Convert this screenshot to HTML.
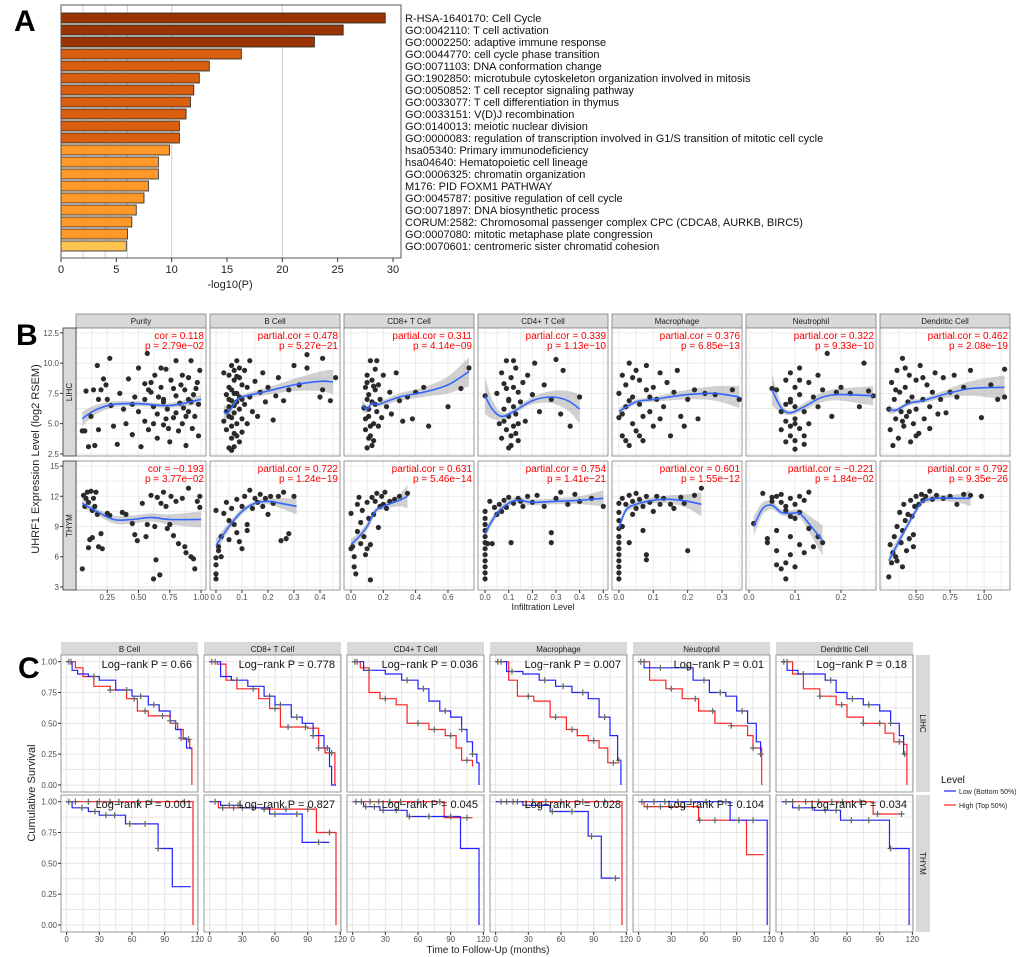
<!DOCTYPE html>
<html><head><meta charset="utf-8"><style>
html,body{margin:0;padding:0;background:#fff}
svg{display:block;font-family:"Liberation Sans",Arial,sans-serif}
</style></head><body>
<svg id="fig" width="1020" height="957" viewBox="0 0 1020 957" xmlns="http://www.w3.org/2000/svg">
<text x="14" y="31" font-size="30" font-weight="bold">A</text>
<text x="16" y="345" font-size="30" font-weight="bold">B</text>
<text x="18" y="678" font-size="30" font-weight="bold">C</text>
<g id="pa"></g>
<g id="pb"></g>
<g id="pc"></g>
</svg>
<script>
// ---------- Panel A data ----------
const aTerms=["R-HSA-1640170: Cell Cycle","GO:0042110: T cell activation","GO:0002250: adaptive immune response","GO:0044770: cell cycle phase transition","GO:0071103: DNA conformation change","GO:1902850: microtubule cytoskeleton organization involved in mitosis","GO:0050852: T cell receptor signaling pathway","GO:0033077: T cell differentiation in thymus","GO:0033151: V(D)J recombination","GO:0140013: meiotic nuclear division","GO:0000083: regulation of transcription involved in G1/S transition of mitotic cell cycle","hsa05340: Primary immunodeficiency","hsa04640: Hematopoietic cell lineage","GO:0006325: chromatin organization","M176: PID FOXM1 PATHWAY","GO:0045787: positive regulation of cell cycle","GO:0071897: DNA biosynthetic process","CORUM:2582: Chromosomal passenger complex CPC (CDCA8, AURKB, BIRC5)","GO:0007080: mitotic metaphase plate congression","GO:0070601: centromeric sister chromatid cohesion"];
const aValues=[29.3,25.5,22.9,16.3,13.4,12.5,12.0,11.7,11.3,10.7,10.7,9.8,8.8,8.8,7.9,7.5,6.8,6.4,6.0,5.9];
const aColorGroup=[0,0,0,1,1,1,1,1,1,1,1,2,2,2,2,2,2,2,2,3];
const aTicks=[0,5,10,15,20,25,30];
const aGrid=[2,4,6,10,20];

// ---------- Panel B data ----------
const bPanels=["Purity","B Cell","CD8+ T Cell","CD4+ T Cell","Macrophage","Neutrophil","Dendritic Cell"];
const bXDomains=[[0,1.04],[-0.023,0.477],[-0.043,0.761],[-0.03,0.52],[-0.02,0.358],[-0.0065,0.276],[0.235,1.19]];
const bXTicks=[[0.25,0.5,0.75,1.0],[0,0.1,0.2,0.3,0.4],[0,0.2,0.4,0.6],[0,0.1,0.2,0.3,0.4,0.5],[0,0.1,0.2,0.3],[0,0.1,0.2],[0.5,0.75,1.0]];
const bXTickLabels=[["0.25","0.50","0.75","1.00"],["0.0","0.1","0.2","0.3","0.4"],["0.0","0.2","0.4","0.6"],["0.0","0.1","0.2","0.3","0.4","0.5"],["0.0","0.1","0.2","0.3"],["0.0","0.1","0.2"],["0.50","0.75","1.00"]];
const bRows=["LIHC","THYM"];
const bYDomains=[[2.33,12.9],[2.7,15.5]];
const bYTicks=[[2.5,5,7.5,10,12.5],[3,6,9,12,15]];
const bYTickLabels=[["2.5","5.0","7.5","10.0","12.5"],["3","6","9","12","15"]];
const lihcCorLabel=["cor = 0.118","partial.cor = 0.478","partial.cor = 0.311","partial.cor = 0.339","partial.cor = 0.376","partial.cor = 0.322","partial.cor = 0.462"];
const lihcPLabel=["p = 2.79e\u221202","p = 5.27e\u221221","p = 4.14e\u221209","p = 1.13e\u221210","p = 6.85e\u221213","p = 9.33e\u221210","p = 2.08e\u221219"];
const thymCorLabel=["cor = \u22120.193","partial.cor = 0.722","partial.cor = 0.631","partial.cor = 0.754","partial.cor = 0.601","partial.cor = \u22120.221","partial.cor = 0.792"];
const thymPLabel=["p = 3.77e\u221202","p = 1.24e\u221219","p = 5.46e\u221214","p = 1.41e\u221221","p = 1.55e\u221212","p = 1.84e\u221202","p = 9.35e\u221226"];
const lihcPoints=[
[0.05,4.4,0.07,4.4,0.08,7.7,0.1,3.1,0.12,5.6,0.14,7.8,0.15,3.2,0.17,9.8,0.18,7.0,0.18,4.5,0.2,7.8,0.22,8.7,0.24,8.2,0.25,7.0,0.27,10.4,0.28,6.5,0.3,4.8,0.33,3.3,0.35,7.5,0.38,6.2,0.4,5.0,0.42,8.7,0.45,4.1,0.47,7.2,0.5,9.6,0.5,6.0,0.52,3.1,0.55,8.3,0.55,5.2,0.57,10.8,0.58,4.5,0.6,7.6,0.62,6.4,0.63,9.0,0.65,3.8,0.65,5.8,0.68,8.0,0.7,4.9,0.7,7.0,0.72,9.5,0.73,6.2,0.75,3.5,0.76,8.6,0.78,5.5,0.8,10.2,0.8,7.3,0.82,4.4,0.83,6.7,0.85,9.0,0.85,5.0,0.87,7.8,0.88,3.2,0.9,8.8,0.9,6.0,0.92,10.2,0.93,4.6,0.94,7.4,0.95,5.6,0.97,8.4,0.98,6.6,0.98,4.0,0.99,9.4,0.6,8.4,0.7,6.8,0.8,5.9,0.9,7.0,0.45,6.6,0.55,7.0,0.62,5.0,0.68,9.6,0.74,4.6,0.86,6.3,0.96,7.9,0.58,7.8,0.66,7.2,0.78,7.9,0.84,8.2,0.88,5.6,0.92,6.8,0.72,5.4],
[0.03,9.2,0.04,6.0,0.04,4.5,0.05,8.0,0.05,3.0,0.05,7.0,0.06,5.5,0.06,9.8,0.06,3.8,0.07,6.5,0.07,8.6,0.07,4.2,0.08,7.5,0.08,5.0,0.08,10.2,0.09,6.2,0.09,3.5,0.09,8.8,0.1,7.0,0.1,5.4,0.1,4.3,0.11,9.4,0.11,6.6,0.12,8.0,0.12,5.0,0.13,7.2,0.13,10.2,0.14,6.0,0.15,8.5,0.16,5.6,0.17,7.6,0.18,9.2,0.19,6.8,0.2,8.0,0.22,5.3,0.23,7.3,0.24,8.8,0.26,6.9,0.28,7.8,0.3,9.8,0.32,8.2,0.35,10.7,0.35,9.6,0.4,7.2,0.41,10.4,0.41,7.8,0.44,6.9,0.46,8.8,0.06,7.8,0.08,6.8,0.07,3.1,0.09,9.6,0.05,6.4,0.1,8.2,0.03,5.2,0.06,4.8,0.07,5.9,0.08,4.0,0.09,7.2,0.05,9.0,0.04,7.4,0.06,6.9,0.07,7.5,0.08,8.9,0.05,5.6,0.07,9.4,0.06,2.8],
[0.08,6.3,0.09,8.0,0.09,4.5,0.1,3.0,0.1,9.0,0.11,5.6,0.11,7.4,0.12,10.2,0.12,4.0,0.13,6.8,0.13,8.6,0.14,5.0,0.14,3.6,0.15,7.8,0.15,9.5,0.16,6.0,0.17,4.8,0.17,8.2,0.18,7.0,0.19,5.5,0.2,9.0,0.22,6.4,0.24,7.6,0.25,5.8,0.28,9.2,0.3,6.9,0.32,5.2,0.35,7.2,0.38,5.4,0.4,7.6,0.45,8.0,0.48,4.8,0.6,6.4,0.68,7.9,0.73,9.6,0.11,6.2,0.13,3.2,0.1,7.0,0.16,10.2,0.14,8.1,0.09,5.4,0.12,4.8,0.1,8.4,0.15,6.6,0.11,3.8],
[0.0,7.3,0.05,7.5,0.06,5.0,0.07,9.2,0.07,3.8,0.08,6.2,0.08,8.3,0.09,4.5,0.09,10.2,0.1,5.6,0.1,7.0,0.11,3.2,0.11,8.8,0.12,6.4,0.12,4.8,0.13,9.6,0.13,5.8,0.14,7.6,0.14,3.6,0.15,6.8,0.16,8.4,0.17,5.2,0.18,9.0,0.2,7.4,0.21,10.0,0.23,6.0,0.25,8.2,0.28,7.0,0.3,10.3,0.32,5.8,0.33,9.4,0.36,4.8,0.4,7.2,0.1,6.9,0.11,4.0,0.09,7.9,0.14,5.0,0.12,10.2,0.08,5.2,0.1,3.0,0.12,8.0,0.13,4.2],
[0.0,5.5,0.0,7.5,0.01,9.0,0.01,4.0,0.02,6.4,0.02,8.2,0.03,3.2,0.03,10.0,0.04,5.0,0.04,7.2,0.05,9.4,0.05,4.4,0.06,6.6,0.06,8.6,0.07,5.6,0.07,3.6,0.08,7.8,0.08,9.8,0.09,6.0,0.1,4.8,0.1,8.0,0.11,7.0,0.12,5.4,0.12,9.2,0.13,6.4,0.14,8.4,0.15,4.0,0.16,7.6,0.17,9.4,0.18,5.6,0.19,4.8,0.2,7.0,0.22,7.8,0.23,5.4,0.25,7.5,0.28,7.4,0.33,7.8,0.35,7.0,0.03,6.9,0.06,4.0,0.01,5.8,0.02,3.6,0.04,8.8,0.09,7.2],
[0.06,7.8,0.07,6.0,0.07,4.5,0.08,8.6,0.08,5.2,0.08,3.5,0.09,7.0,0.09,9.2,0.09,4.0,0.1,6.4,0.1,2.9,0.1,8.0,0.1,5.4,0.11,7.4,0.11,4.6,0.11,9.6,0.12,6.0,0.12,3.3,0.13,8.4,0.13,5.0,0.14,7.2,0.15,6.4,0.15,9.0,0.16,7.8,0.17,10.8,0.18,5.6,0.19,7.6,0.2,8.0,0.22,7.5,0.24,6.4,0.25,10.0,0.26,7.7,0.27,7.3,0.05,7.9,0.09,6.8,0.12,4.0,0.1,3.6,0.08,6.6,0.1,5.0,0.11,8.6,0.09,4.8],
[0.3,6.2,0.31,4.5,0.32,8.4,0.33,3.2,0.34,7.0,0.35,5.4,0.36,9.4,0.37,3.8,0.38,7.6,0.39,6.0,0.4,10.4,0.41,4.8,0.42,8.0,0.43,5.6,0.44,6.8,0.45,9.0,0.46,3.5,0.47,7.2,0.48,5.0,0.5,8.6,0.5,6.2,0.52,4.2,0.53,9.8,0.55,7.0,0.56,5.4,0.58,8.2,0.6,6.4,0.6,4.6,0.62,7.6,0.64,9.2,0.66,5.8,0.68,7.0,0.7,8.8,0.72,5.9,0.75,7.6,0.78,9.0,0.8,7.2,0.85,8.0,0.9,9.4,0.98,5.5,1.05,8.2,1.1,7.0,1.15,9.5,1.15,7.2,0.35,7.8,0.45,6.0,0.4,5.2,0.5,4.0,0.55,8.8,0.42,9.6]
];
const thymPoints=[
[0.05,4.8,0.06,12.1,0.07,11.0,0.08,11.8,0.09,12.4,0.1,6.9,0.1,11.4,0.11,7.7,0.12,12.5,0.13,10.6,0.13,7.9,0.14,11.8,0.15,11.0,0.16,12.4,0.17,10.2,0.18,7.0,0.2,8.3,0.21,6.8,0.25,10.3,0.27,10.1,0.37,10.4,0.4,10.2,0.45,9.3,0.47,8.2,0.49,7.6,0.53,11.3,0.56,8.0,0.57,9.2,0.6,12.1,0.62,3.8,0.63,9.0,0.64,5.7,0.65,11.9,0.67,4.2,0.68,11.3,0.7,12.4,0.72,11.0,0.73,8.8,0.75,9.2,0.76,12.0,0.78,8.1,0.8,11.5,0.82,7.3,0.85,11.8,0.87,7.0,0.88,6.4,0.9,12.8,0.92,6.0,0.94,5.8,0.95,4.8,0.97,11.5,0.99,12.0,0.99,10.9],
[0.0,3.8,0.0,4.3,0.0,5.2,0.0,5.9,0.0,10.6,0.01,6.6,0.01,7.0,0.02,8.0,0.02,6.0,0.03,10.3,0.04,11.4,0.05,7.7,0.06,10.8,0.07,9.2,0.08,11.7,0.08,8.4,0.1,11.0,0.1,6.8,0.11,12.0,0.12,9.2,0.13,12.6,0.14,10.8,0.15,11.8,0.16,11.4,0.17,12.2,0.18,11.0,0.19,11.8,0.2,10.2,0.21,12.0,0.22,11.3,0.24,12.0,0.25,7.6,0.26,12.4,0.27,7.8,0.28,8.3,0.3,12.0,0.05,9.6,0.09,7.5,0.12,8.6],
[0.0,10.3,0.0,6.8,0.01,7.0,0.02,6.0,0.02,5.0,0.03,4.3,0.04,11.2,0.04,8.5,0.05,11.9,0.06,9.4,0.07,10.6,0.08,8.0,0.09,6.2,0.1,11.4,0.11,9.8,0.12,3.7,0.12,7.2,0.13,11.9,0.14,10.2,0.15,11.5,0.16,12.3,0.17,8.9,0.18,11.0,0.19,12.0,0.2,11.2,0.21,12.4,0.22,10.8,0.24,11.5,0.27,11.7,0.3,12.0,0.35,12.3,0.1,6.8,0.06,7.3],
[0.0,3.8,0.0,4.4,0.0,5.0,0.0,5.6,0.0,6.2,0.0,6.8,0.0,7.4,0.0,8.0,0.0,8.6,0.0,9.2,0.0,9.8,0.0,10.5,0.01,7.3,0.02,11.5,0.03,7.3,0.04,10.9,0.05,10.2,0.06,11.2,0.07,10.5,0.08,11.6,0.09,10.9,0.1,11.9,0.11,7.4,0.12,11.3,0.14,11.8,0.16,11.0,0.18,12.0,0.2,11.4,0.22,12.1,0.25,11.0,0.28,8.4,0.28,7.4,0.3,11.8,0.32,12.4,0.35,11.2,0.38,12.2,0.4,11.5,0.45,11.8,0.5,11.0,0.15,11.5],
[0.0,3.8,0.0,4.4,0.0,5.0,0.0,5.6,0.0,6.2,0.0,6.8,0.0,7.4,0.0,8.0,0.0,8.8,0.0,9.6,0.0,10.4,0.0,11.3,0.01,11.8,0.01,9.0,0.02,11.2,0.03,7.4,0.03,12.1,0.04,11.5,0.05,10.8,0.05,12.3,0.06,11.7,0.07,8.6,0.07,11.0,0.08,5.7,0.08,6.2,0.08,12.0,0.09,11.4,0.1,10.5,0.11,12.0,0.12,11.2,0.13,11.8,0.15,11.2,0.16,10.8,0.18,11.9,0.19,11.3,0.2,6.6,0.22,12.1,0.24,12.8,0.04,10.2],
[0.01,9.3,0.03,12.3,0.04,7.8,0.04,7.4,0.05,11.5,0.05,11.9,0.06,12.0,0.06,6.6,0.06,5.2,0.07,11.4,0.07,12.2,0.07,4.8,0.08,11.0,0.08,10.6,0.08,5.4,0.08,3.8,0.09,11.8,0.09,8.0,0.09,6.2,0.1,11.2,0.1,9.8,0.1,5.0,0.11,12.0,0.11,10.4,0.11,7.2,0.12,11.6,0.12,6.4,0.13,12.4,0.13,8.8,0.14,7.0,0.15,8.0,0.16,7.4,0.06,8.6,0.09,10.0],
[0.3,4.0,0.31,7.2,0.32,5.4,0.33,6.4,0.34,8.0,0.35,6.0,0.36,5.6,0.36,9.0,0.38,10.4,0.39,7.4,0.4,5.0,0.4,8.6,0.41,11.2,0.42,9.6,0.43,6.6,0.44,10.2,0.45,7.8,0.46,11.6,0.47,10.0,0.48,8.2,0.49,11.0,0.5,12.0,0.52,11.2,0.54,12.2,0.55,11.6,0.57,12.0,0.6,12.5,0.62,11.7,0.65,12.1,0.7,11.8,0.75,12.0,0.8,11.2,0.85,12.2,0.9,12.1,0.98,12.0,0.48,7.0]
];
const lihcFit=[
[[0.05,5.4,0.6],[0.15,6.1,0.4],[0.3,6.6,0.25],[0.5,6.65,0.2],[0.75,6.5,0.2],[1.0,7.0,0.4]],
[[0.03,6.0,0.6],[0.045,5.9,0.5],[0.08,6.9,0.2],[0.1,7.2,0.2],[0.2,7.7,0.3],[0.3,8.2,0.5],[0.4,8.5,0.8],[0.45,8.45,1.0]],
[[0.07,6.5,0.5],[0.1,6.2,0.3],[0.13,6.7,0.2],[0.17,6.6,0.2],[0.3,7.2,0.3],[0.45,7.6,0.4],[0.6,8.2,0.7],[0.73,9.3,1.2]],
[[0.0,7.3,1.5],[0.03,6.2,0.8],[0.07,5.6,0.3],[0.12,6.0,0.2],[0.2,6.9,0.3],[0.28,7.2,0.5],[0.35,6.9,0.8],[0.4,6.2,1.2]],
[[0.0,6.0,0.3],[0.05,6.8,0.2],[0.1,7.0,0.2],[0.2,7.4,0.4],[0.28,7.5,0.6],[0.35,7.2,0.9]],
[[0.05,7.8,1.3],[0.07,6.3,0.4],[0.09,5.9,0.2],[0.12,6.4,0.3],[0.16,7.2,0.4],[0.2,7.4,0.5],[0.27,7.3,0.8]],
[[0.3,6.2,0.4],[0.35,6.1,0.2],[0.45,6.7,0.2],[0.55,6.9,0.2],[0.7,7.4,0.3],[0.9,7.9,0.6],[1.15,8.0,1.0]]
];
const thymFit=[
[[0.05,11.3,0.5],[0.15,10.6,0.3],[0.3,9.7,0.4],[0.45,9.7,0.4],[0.6,9.9,0.4],[0.75,9.7,0.5],[1.0,9.7,0.8]],
[[0.0,7.1,0.7],[0.05,9.0,0.4],[0.1,10.5,0.3],[0.15,11.3,0.2],[0.2,11.5,0.3],[0.25,11.3,0.5],[0.31,11.0,0.8]],
[[0.0,7.2,0.6],[0.05,8.0,0.4],[0.1,9.0,0.4],[0.15,10.5,0.3],[0.2,11.0,0.3],[0.3,11.6,0.6],[0.35,12.0,1.2]],
[[0.0,8.3,0.5],[0.03,9.6,0.4],[0.07,10.8,0.3],[0.13,11.6,0.3],[0.2,11.4,0.3],[0.3,11.5,0.3],[0.4,11.6,0.4],[0.5,11.8,0.8]],
[[0.0,8.8,0.5],[0.02,10.6,0.3],[0.05,11.2,0.3],[0.1,11.6,0.3],[0.15,11.7,0.4],[0.2,11.5,0.7],[0.24,11.2,1.2]],
[[0.01,9.0,1.0],[0.03,10.8,0.6],[0.05,11.1,0.4],[0.07,10.4,0.3],[0.09,10.3,0.3],[0.11,10.3,0.4],[0.13,9.3,0.8],[0.16,7.6,1.5]],
[[0.3,5.6,0.6],[0.4,8.2,0.4],[0.5,10.6,0.3],[0.55,11.5,0.3],[0.65,11.8,0.3],[0.8,11.8,0.4],[0.9,11.8,0.8]]
];

// ---------- Panel C data ----------
const cPanels=["B Cell","CD8+ T Cell","CD4+ T Cell","Macrophage","Neutrophil","Dendritic Cell"];
const cXTicks=[0,30,60,90,120];
const cYTicks=[0,0.25,0.5,0.75,1.0];
const cYTickLabels=["0.00","0.25","0.50","0.75","1.00"];
const lihcLogRank=["Log\u2212rank P = 0.66","Log\u2212rank P = 0.778","Log\u2212rank P = 0.036","Log\u2212rank P = 0.007","Log\u2212rank P = 0.01","Log\u2212rank P = 0.18"];
const thymLogRank=["Log\u2212rank P = 0.001","Log\u2212rank P = 0.827","Log\u2212rank P = 0.045","Log\u2212rank P = 0.028","Log\u2212rank P = 0.104","Log\u2212rank P = 0.034"];
const lihcLow=[
[0,1,5,0.93,10,0.9,20,0.88,30,0.85,45,0.77,60,0.72,75,0.65,85,0.6,95,0.52,100,0.45,105,0.38,110,0.3,114,0.29],
[0,1,10,0.88,20,0.85,35,0.8,50,0.72,60,0.65,75,0.55,85,0.5,95,0.4,105,0.3,110,0.15,112,0,116,0],
[0,1,10,0.93,30,0.9,45,0.85,60,0.78,70,0.68,80,0.6,90,0.55,100,0.45,105,0.35,110,0.25,114,0.18,116,0],
[0,1,10,0.92,25,0.9,40,0.85,55,0.8,70,0.75,85,0.7,95,0.55,105,0.4,112,0.2,115,0],
[0,1,5,0.95,40,0.95,50,0.85,65,0.75,80,0.72,90,0.6,100,0.5,108,0.35,112,0.25,114,0.25],
[0,1,5,0.93,15,0.9,40,0.85,50,0.75,60,0.7,75,0.65,90,0.6,100,0.5,108,0.4,112,0.25,115,0.25]
];
const lihcHigh=[
[0,1,8,0.95,15,0.88,25,0.8,40,0.77,55,0.7,65,0.6,75,0.56,95,0.5,102,0.45,107,0.37,113,0.3,115,0],
[0,1,7,0.98,15,0.85,25,0.78,45,0.7,55,0.62,65,0.47,90,0.46,100,0.3,106,0.26,115,0],
[0,1,7,0.95,15,0.75,25,0.7,40,0.65,50,0.5,70,0.45,85,0.4,95,0.3,100,0.2,110,0.15],
[0,1,12,0.85,20,0.72,35,0.68,50,0.55,65,0.45,75,0.4,85,0.36,95,0.3,103,0.18,113,0.18],
[0,1,10,0.85,25,0.78,40,0.7,55,0.6,70,0.5,85,0.48,100,0.4,105,0.3,113,0],
[0,1,10,0.9,20,0.78,35,0.72,50,0.65,60,0.55,75,0.5,95,0.42,103,0.35,112,0.33,115,0]
];
const thymLow=[
[0,1,5,0.95,20,0.92,30,0.89,54,0.82,84,0.62,97,0.31,114,0.31],
[0,1,10,0.97,30,0.95,55,0.9,85,0.67,110,0.67],
[0,1,10,0.96,25,0.93,50,0.88,97,0.88,99,0.62,115,0.62,116,0],
[0,1,25,0.97,50,0.92,85,0.72,97,0.38,114,0.38],
[0,1,30,1,84,0.85,117,0.85,118,0],
[0,1,10,0.95,30,0.93,54,0.85,97,0.85,99,0.62,115,0.62,117,0]
];
const thymHigh=[
[0,1,115,1,116,0],
[0,1,8,0.95,50,0.94,96,0.94,98,0.75,115,0.75,116,0],
[0,1,83,1,84,0.87,110,0.87],
[0,1,115,1,116,0],
[0,1,5,0.96,55,0.85,97,0.85,99,0.57,115,0.57],
[0,1,83,1,84,0.9,110,0.9]
];
const lihcCensor=[[2,4,25,40,55,62,68,72,80,88,95,100,105,112],[2,5,25,40,55,60,65,72,80,88,95,100,108,112],[2,4,15,30,50,60,65,75,85,90,100,105,110],[2,5,15,30,45,55,62,70,80,90,100,108,113],[2,5,20,30,45,52,60,68,75,85,95,105,112],[2,5,20,35,45,55,65,75,80,90,100,108,113]];
const thymCensor=[[2,8,14,20,26,30,36,40,44,48,58,66,72,78,84,108],[5,12,18,22,26,30,40,50,60,70,80,90,100,110],[3,8,12,16,20,24,28,34,40,44,52,60,70,80,90,105],[5,10,16,20,28,34,40,46,52,60,70,80,88,100,110],[3,8,14,20,24,30,36,42,48,56,62,70,80,92,105],[4,10,16,22,28,34,40,46,50,56,64,72,80,88,100,110]];
</script>
<script>
const NS="http://www.w3.org/2000/svg";
function mk(parent,tag,attrs,text){const e=document.createElementNS(NS,tag);for(const k in attrs)e.setAttribute(k,attrs[k]);if(text!==undefined)e.textContent=text;parent.appendChild(e);return e;}
function lin(d0,d1,r0,r1){return v=>r0+(v-d0)/(d1-d0)*(r1-r0);}
function smoothPath(pts){if(pts.length<2)return"";let d="M"+pts[0][0].toFixed(1)+","+pts[0][1].toFixed(1);for(let i=0;i<pts.length-1;i++){const p0=pts[i-1]||pts[i],p1=pts[i],p2=pts[i+1],p3=pts[i+2]||p2;const c1x=p1[0]+(p2[0]-p0[0])/6,c1y=p1[1]+(p2[1]-p0[1])/6,c2x=p2[0]-(p3[0]-p1[0])/6,c2y=p2[1]-(p3[1]-p1[1])/6;d+="C"+c1x.toFixed(1)+","+c1y.toFixed(1)+" "+c2x.toFixed(1)+","+c2y.toFixed(1)+" "+p2[0].toFixed(1)+","+p2[1].toFixed(1);}return d;}

// ===== Panel A =====
(function(){
const g=document.getElementById('pa');
const L=61,R=401,T=5,B=258;const x=lin(0,30,61,393);
const colors=["#993404","#d95f0e","#fe9929","#fec44f"];
mk(g,'rect',{x:L,y:T,width:R-L,height:B-T,fill:'#fff',stroke:'none'});
aGrid.forEach(v=>{const l=mk(g,'line',{x1:x(v),x2:x(v),y1:T,y2:B,stroke:'#d0d0d0','stroke-width':1});});
const step=12.0,y0=18;
aValues.forEach((v,i)=>{const cy=y0+i*step;
const r=mk(g,'rect',{x:L,y:cy-5,width:x(v)-L,height:10,fill:colors[aColorGroup[i]],stroke:'#222','stroke-width':0.8});

const t=mk(g,'text',{x:405,y:cy+4,'font-size':11,fill:'#111'},aTerms[i]);
});
mk(g,'rect',{x:L,y:T,width:R-L,height:B-T,fill:'none',stroke:'#555','stroke-width':1});
aTicks.forEach(v=>{mk(g,'line',{x1:x(v),x2:x(v),y1:B,y2:B+4,stroke:'#333'});const t=mk(g,'text',{x:x(v),y:B+15,'font-size':11,'text-anchor':'middle',fill:'#222'},String(v));});
const t=mk(g,'text',{x:230,y:288,'font-size':11,'text-anchor':'middle',fill:'#222'},'-log10(P)');
})();

// ===== Panel B =====
(function(){
const g=document.getElementById('pb');
const x0=76,pitch=134,w=130;const rowY=[[328,456],[461,590]];
const pointsSets=[lihcPoints,thymPoints],fits=[lihcFit,thymFit],cors=[lihcCorLabel,thymCorLabel],ps=[lihcPLabel,thymPLabel];
bPanels.forEach((name,j)=>{const left=x0+j*pitch;
const s=mk(g,'rect',{x:left,y:314,width:w,height:14,fill:'#d9d9d9',stroke:'#7f7f7f','stroke-width':0.8});
mk(g,'text',{x:left+w/2,y:324,'font-size':8,'text-anchor':'middle',fill:'#1a1a1a'},name);
const xs=lin(bXDomains[j][0],bXDomains[j][1],left,left+w);
for(let r=0;r<2;r++){const top=rowY[r][0],bot=rowY[r][1];const ys=lin(bYDomains[r][0],bYDomains[r][1],bot,top);
const pg=mk(g,'g',{});
mk(pg,'rect',{x:left,y:top,width:w,height:bot-top,fill:'#fff'});
const tk=bXTicks[j];const stepv=tk[1]-tk[0];
for(let v=tk[0]-stepv*2;v<=bXDomains[j][1]+stepv;v+=stepv/2){if(v<bXDomains[j][0]||v>bXDomains[j][1])continue;mk(pg,'line',{x1:xs(v),x2:xs(v),y1:top,y2:bot,stroke:'#ebebeb','stroke-width':1});}
const yt=bYTicks[r];const ystep=yt[1]-yt[0];
for(let v=yt[0]-ystep;v<=bYDomains[r][1];v+=ystep/2){if(v<bYDomains[r][0])continue;mk(pg,'line',{x1:left,x2:left+w,y1:ys(v),y2:ys(v),stroke:'#ebebeb','stroke-width':1});}
const fit=fits[r][j];
const up=fit.map(p=>[xs(p[0]),ys(p[1]+p[2])]),lo=fit.map(p=>[xs(p[0]),ys(p[1]-p[2])]).reverse();
const lp=smoothPath(lo);
const band=smoothPath(up)+"L"+lo[0][0].toFixed(1)+","+lo[0][1].toFixed(1)+lp.slice(lp.indexOf('C'))+"Z";
const bd=mk(pg,'path',{d:band,fill:'#999',opacity:0.45});
const pts=pointsSets[r][j];
for(let k=0;k<pts.length;k+=2){const c=mk(pg,'circle',{cx:xs(pts[k]).toFixed(1),cy:ys(pts[k+1]).toFixed(1),r:2.6,fill:'#2b2b2b'});}
const fl=mk(pg,'path',{d:smoothPath(fit.map(p=>[xs(p[0]),ys(p[1])])),fill:'none',stroke:'#3366ff','stroke-width':1.6});
mk(pg,'rect',{x:left,y:top,width:w,height:bot-top,fill:'none',stroke:'#7f7f7f','stroke-width':0.8});
const a1=mk(pg,'text',{x:left+w-2,y:top+11,'font-size':10,'text-anchor':'end',fill:'#ff0000'},cors[r][j]);
const a2=mk(pg,'text',{x:left+w-2,y:top+21,'font-size':10,'text-anchor':'end',fill:'#ff0000'},ps[r][j]);
if(j===0){yt.forEach((v,i)=>{if(v<bYDomains[r][0]||v>bYDomains[r][1])return;mk(g,'line',{x1:left-16,x2:left-13,y1:ys(v),y2:ys(v),stroke:'#333'});const t=mk(g,'text',{x:left-17,y:ys(v)+3,'font-size':8,'text-anchor':'end',fill:'#4d4d4d'},bYTickLabels[r][i]);});}
}
bXTicks[j].forEach((v,i)=>{mk(g,'line',{x1:xs(v),x2:xs(v),y1:590,y2:593,stroke:'#333'});const t=mk(g,'text',{x:xs(v),y:600,'font-size':8,'text-anchor':'middle',fill:'#4d4d4d'},bXTickLabels[j][i]);});
});
bRows.forEach((n,r)=>{const top=rowY[r][0],bot=rowY[r][1];const s=mk(g,'rect',{x:63,y:top,width:13,height:bot-top,fill:'#d9d9d9',stroke:'#333','stroke-width':0.8});mk(g,'text',{x:0,y:0,'font-size':8,'text-anchor':'middle',fill:'#1a1a1a',transform:`translate(72,${(top+bot)/2}) rotate(-90)`},n);});
const yt=mk(g,'text',{x:0,y:0,'font-size':11,'text-anchor':'middle',fill:'#222',transform:'translate(39,459) rotate(-90)'},'UHRF1 Expression Level (log2 RSEM)');
const xt=mk(g,'text',{x:543,y:610,'font-size':9,'text-anchor':'middle',fill:'#222'},'Infiltration Level');
})();

// ===== Panel C =====
(function(){
const g=document.getElementById('pc');
const x0=61,pitch=143,w=137;const rowY=[[655,792],[795,932]];
const lows=[lihcLow,thymLow],highs=[lihcHigh,thymHigh],cens=[lihcCensor,thymCensor],lr=[lihcLogRank,thymLogRank];
function survAt(arr,t){let s=arr[1];for(let k=0;k<arr.length;k+=2){if(arr[k]<=t)s=arr[k+1];}return s;}
function stepPath(arr,xs,ys){let d="M"+xs(arr[0]).toFixed(1)+","+ys(arr[1]).toFixed(1);for(let k=2;k<arr.length;k+=2){d+="H"+xs(arr[k]).toFixed(1)+"V"+ys(arr[k+1]).toFixed(1);}return d;}
cPanels.forEach((name,j)=>{const left=x0+j*pitch;
const s=mk(g,'rect',{x:left,y:642,width:w,height:13,fill:'#d9d9d9',stroke:'none'});
mk(g,'text',{x:left+w/2,y:652,'font-size':8,'text-anchor':'middle',fill:'#1a1a1a'},name);
const xs=lin(-5.2,120.6,left,left+w);
for(let r=0;r<2;r++){const top=rowY[r][0],bot=rowY[r][1];const ys=lin(-0.057,1.054,bot,top);
const pg=mk(g,'g',{});
mk(pg,'rect',{x:left,y:top,width:w,height:bot-top,fill:'#fff'});
for(let v=0;v<=120;v+=15)mk(pg,'line',{x1:xs(v),x2:xs(v),y1:top,y2:bot,stroke:'#e6e6e6','stroke-width':1});
for(let v=0;v<=1.001;v+=0.125)mk(pg,'line',{x1:left,x2:left+w,y1:ys(v),y2:ys(v),stroke:'#e6e6e6','stroke-width':1});
[[highs[r][j],'#ff2020','high'],[lows[r][j],'#2020ff','low']].forEach(([arr,col,nm])=>{const p=mk(pg,'path',{d:stepPath(arr,xs,ys),fill:'none',stroke:col,'stroke-width':1.2});});
cens[r][j].forEach((t,k)=>{const arr=k%2?highs[r][j]:lows[r][j];const last=arr[arr.length-2];if(t>last)return;const cx=xs(t),cy=ys(survAt(arr,t));const m=mk(pg,'path',{d:`M${(cx-3).toFixed(1)},${cy.toFixed(1)}h6M${cx.toFixed(1)},${(cy-3).toFixed(1)}v6`,stroke:'#666','stroke-width':1.2});});
mk(pg,'rect',{x:left,y:top,width:w,height:bot-top,fill:'none',stroke:'#7f7f7f','stroke-width':0.8});
const t=mk(pg,'text',{x:left+w-6,y:top+13,'font-size':11,'text-anchor':'end',fill:'#111'},lr[r][j]);
if(j===0){cYTicks.forEach((v,i)=>{mk(g,'line',{x1:left-3,x2:left,y1:ys(v),y2:ys(v),stroke:'#333'});const tt=mk(g,'text',{x:left-4,y:ys(v)+3,'font-size':8,'text-anchor':'end',fill:'#4d4d4d'},cYTickLabels[i]);});}
}
cXTicks.forEach(v=>{mk(g,'line',{x1:xs(v),x2:xs(v),y1:932,y2:935,stroke:'#333'});const t=mk(g,'text',{x:xs(v),y:942,'font-size':8,'text-anchor':'middle',fill:'#4d4d4d'},String(v));});
});
bRows.forEach((n,r)=>{const top=rowY[r][0],bot=rowY[r][1];const s=mk(g,'rect',{x:916,y:top,width:14,height:bot-top,fill:'#d9d9d9'});mk(g,'text',{x:0,y:0,'font-size':8,'text-anchor':'middle',fill:'#1a1a1a',transform:`translate(920,${(top+bot)/2}) rotate(90)`},n);});
const yt=mk(g,'text',{x:0,y:0,'font-size':11,'text-anchor':'middle',fill:'#222',transform:'translate(35,793) rotate(-90)'},'Cumulative Survival');
const xt=mk(g,'text',{x:488,y:953,'font-size':10,'text-anchor':'middle',fill:'#222'},'Time to Follow-Up (months)');
const lg=mk(g,'g',{});
mk(lg,'text',{x:941,y:783,'font-size':10,fill:'#111'},'Level');
mk(lg,'line',{x1:944,x2:956,y1:791,y2:791,stroke:'#2020ff','stroke-width':1.2});
const e1=mk(lg,'text',{x:959,y:794,'font-size':7,fill:'#222'},'Low (Bottom 50%)');
mk(lg,'line',{x1:944,x2:956,y1:805,y2:805,stroke:'#ff2020','stroke-width':1.2});
const e2=mk(lg,'text',{x:959,y:808,'font-size':7,fill:'#222'},'High (Top 50%)');
})();
</script>
</body></html>
